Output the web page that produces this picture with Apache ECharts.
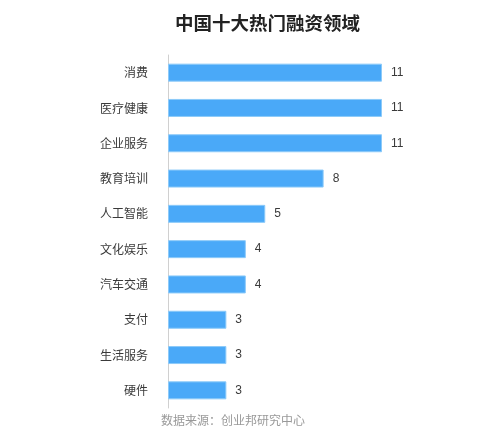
<!DOCTYPE html>
<html>
<head>
<meta charset="utf-8">
<script src="https://cdn.jsdelivr.net/npm/echarts@6/dist/echarts.min.js"></script>
<style>
  html, body { margin: 0; padding: 0; background: #fff; }
  #main { width: 494px; height: 433px; }
</style>
</head>
<body>
<div id="main"></div>
<script>
const categories = ['消费', '医疗健康', '企业服务', '教育培训', '人工智能', '文化娱乐', '汽车交通', '支付', '生活服务', '硬件'];
const values = [11, 11, 11, 8, 5, 4, 4, 3, 3, 3];

const chart = echarts.init(document.getElementById('main'));
const option = {
    backgroundColor: '#fff',
    title: [{
        text: '中国十大热门融资领域',
        left: 170,
        top: 9,
        textStyle: { fontSize: 18.5, fontWeight: 'bold', color: '#222', fontFamily: 'Noto Sans CJK SC' }
    }, {
        text: '数据来源：创业邦研究中心',
        left: 156,
        top: 409,
        textStyle: { fontSize: 12, fontWeight: 'normal', color: '#999', fontFamily: 'Noto Sans CJK SC' }
    }],
    grid: { left: 168, right: 112, top: 55, bottom: 25 },
    xAxis: {
        type: 'value',
        min: 0,
        max: 11,
        show: false
    },
    yAxis: {
        type: 'category',
        inverse: true,
        data: categories,
        axisLine: { lineStyle: { color: '#d0d0d0' } },
        axisTick: { show: false },
        axisLabel: { color: '#3a3a3a', fontSize: 12, margin: 20, fontFamily: 'Noto Sans CJK SC' }
    },
    series: [{
        type: 'bar',
        data: values,
        barWidth: 18,
        itemStyle: { color: '#4aa9f8', borderColor: '#8ccaf9', borderWidth: 1 },
        label: {
            show: true,
            position: 'right',
            distance: 9,
            color: '#3a3a3a',
            fontSize: 12
        }
    }]
};
chart.setOption(option);
window.addEventListener('resize', function () {
    chart.resize();
});
</script>
</body>
</html>
